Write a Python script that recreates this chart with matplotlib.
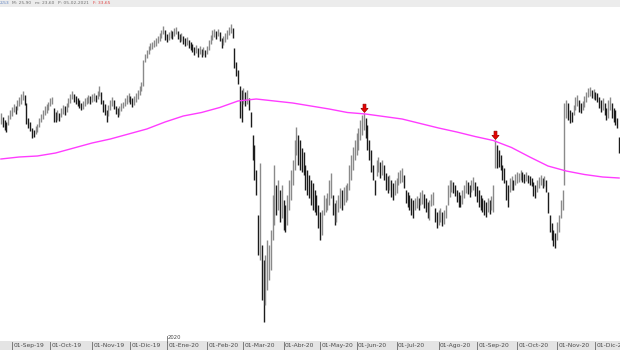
import numpy as np
import pandas as pd
import matplotlib
matplotlib.use("Agg")
import matplotlib.pyplot as plt
from matplotlib.path import Path
from matplotlib.patches import Rectangle
from matplotlib.transforms import blended_transform_factory

# sesiones de la bolsa (dias habiles sin festivos)
festivos = ['2019-12-25', '2019-12-26', '2020-01-01', '2020-04-10', '2020-04-13', '2020-05-01']
meses = ['Ene', 'Feb', 'Mar', 'Abr', 'May', 'Jun', 'Jul', 'Ago', 'Sep', 'Oct', 'Nov', 'Dic']

highs = [
    28.7, 28.3, 28.0, 27.8, 28.5, 29.0, 29.3, 29.6, 29.4, 30.0,
    30.3, 30.6, 30.9, 30.5, 29.7, 28.2, 27.8, 27.2, 27.0, 27.4,
    27.6, 28.2, 28.6, 29.0, 29.4, 29.6, 29.8, 30.2, 30.3, 29.2,
    28.8, 29.0, 28.7, 29.2, 29.5, 29.4, 29.7, 30.2, 30.6, 30.9,
    30.6, 30.4, 30.2, 30.0, 29.7, 29.9, 30.2, 30.3, 30.5, 30.4,
    30.6, 30.7, 30.5, 30.9, 31.4, 30.8, 30.0, 29.6, 29.0, 29.5,
    30.0, 30.3, 30.0, 29.4, 29.2, 29.4, 29.7, 29.8, 30.2, 30.5,
    30.7, 30.4, 30.2, 30.4, 30.7, 31.0, 31.4, 31.8, 34.0, 34.6,
    35.0, 35.4, 35.7, 35.8, 36.0, 36.2, 36.4, 36.7, 37.0, 37.4,
    37.0, 36.6, 36.8, 37.0, 36.9, 37.2, 37.3, 36.9, 36.6, 36.7,
    36.4, 36.2, 36.3, 36.0, 35.8, 35.6, 35.3, 35.5, 35.2, 35.4,
    35.1, 35.3, 35.0, 35.4, 36.0, 36.5, 37.0, 37.1, 36.9, 37.1,
    36.8, 36.2, 36.4, 36.7, 37.0, 37.3, 37.6, 37.2, 35.2, 33.8,
    33.0, 31.4, 31.0, 31.2, 30.8, 31.0, 30.2, 28.8, 26.5, 25.5,
    23.0, 18.5, 23.7, 15.5, 14.0, 14.5, 16.0, 15.5, 17.0, 20.5,
    23.5, 21.5, 22.0, 21.0, 21.5, 20.0, 19.5, 20.5, 22.0, 23.0,
    24.0, 26.0, 27.3, 26.5, 26.0, 25.2, 24.8, 23.5, 23.0, 22.5,
    22.0, 21.7, 21.0, 20.5, 19.5, 18.8, 19.0, 20.5, 20.2, 20.7,
    22.0, 22.7, 20.5, 19.7, 20.0, 20.5, 21.2, 21.0, 21.3, 21.5,
    21.7, 23.5, 24.5, 25.3, 26.0, 26.7, 27.2, 28.0, 28.5, 28.7,
    28.2, 27.5, 26.0, 25.0, 23.5, 22.0, 24.0, 24.3, 23.8, 24.0,
    23.5, 22.7, 22.4, 22.5, 22.0, 21.7, 22.0, 22.2, 22.8, 23.0,
    23.2, 22.5, 21.0, 20.8, 20.5, 20.2, 20.0, 20.2, 20.4, 20.2,
    20.8, 21.0, 20.6, 20.2, 19.8, 20.0, 20.6, 20.8, 19.2, 18.8,
    19.0, 19.2, 18.8, 19.0, 19.5, 21.5, 22.0, 22.0, 21.8, 21.5,
    21.0, 20.8, 20.5, 21.0, 21.5, 22.0, 21.8, 21.5, 22.0, 22.3,
    21.8, 21.4, 21.0, 20.5, 20.2, 20.0, 19.8, 20.2, 20.0, 20.4,
    21.5, 26.0, 25.5, 25.0, 24.5, 23.5, 23.2, 22.0, 21.5, 22.2,
    22.4, 22.0, 22.6, 22.8, 22.7, 23.0, 22.8, 22.6, 22.8, 22.5,
    22.4, 22.2, 21.8, 21.5, 22.0, 22.3, 22.5, 22.2, 22.4, 22.0,
    20.8, 18.5, 17.7, 17.0, 16.7, 17.8, 18.5, 20.0, 21.0, 29.7,
    30.0, 29.7, 29.0, 28.8, 29.5, 30.3, 30.5, 30.0, 29.7, 29.9,
    30.4, 30.8, 31.2, 31.3, 31.0, 31.1, 30.8, 30.7, 30.3, 30.0,
    30.2, 29.7, 29.2, 30.0, 30.3, 29.7, 29.2, 29.0, 28.2, 26.3,
]
lows = [
    27.6, 27.3, 27.0, 26.8, 27.5, 28.1, 28.4, 28.8, 28.6, 29.0,
    29.4, 29.6, 30.0, 29.5, 27.6, 27.2, 26.9, 26.2, 26.3, 26.6,
    26.8, 27.3, 27.8, 28.1, 28.5, 28.7, 29.0, 29.4, 29.6, 27.8,
    27.8, 28.0, 27.9, 28.3, 28.6, 28.5, 28.8, 29.3, 29.7, 30.1,
    29.8, 29.6, 29.4, 29.2, 29.0, 29.1, 29.4, 29.6, 29.7, 29.6,
    29.8, 29.9, 29.8, 30.1, 30.4, 29.6, 28.8, 28.5, 27.8, 28.4,
    29.0, 29.4, 29.1, 28.6, 28.3, 28.5, 28.9, 29.2, 29.4, 29.6,
    29.8, 29.6, 29.3, 29.5, 29.8, 30.1, 30.5, 30.9, 31.4, 33.8,
    34.2, 34.6, 35.0, 35.1, 35.3, 35.4, 35.7, 35.9, 36.2, 36.6,
    36.0, 35.8, 36.0, 36.2, 36.1, 36.4, 36.6, 36.1, 35.8, 35.9,
    35.6, 35.4, 35.5, 35.2, 35.0, 34.8, 34.5, 34.7, 34.3, 34.6,
    34.3, 34.5, 34.3, 34.6, 35.0, 35.6, 36.0, 36.3, 36.1, 36.4,
    35.9, 35.2, 35.5, 35.8, 36.1, 36.5, 36.7, 36.2, 33.2, 32.4,
    31.6, 28.2, 27.8, 29.6, 29.4, 29.6, 29.0, 27.3, 24.0, 22.0,
    20.5, 14.5, 14.0, 10.0, 7.8, 9.5, 11.0, 12.0, 13.0, 16.0,
    17.5, 18.5, 19.0, 17.8, 18.2, 17.0, 16.8, 17.5, 19.0, 20.0,
    21.5, 23.0, 24.5, 23.5, 23.0, 22.8, 22.5, 21.0, 20.5, 20.2,
    19.5, 19.0, 18.8, 18.5, 17.2, 16.0, 16.5, 18.5, 18.8, 19.0,
    19.5, 20.2, 18.5, 17.5, 17.8, 18.8, 19.2, 19.0, 19.5, 19.8,
    20.0, 21.0, 22.0, 23.0, 24.0, 24.5, 25.0, 26.0, 26.5, 27.0,
    26.2, 25.0, 24.0, 22.8, 22.0, 20.5, 22.4, 22.8, 22.2, 22.5,
    22.0, 21.0, 20.7, 21.0, 20.3, 20.0, 20.5, 20.7, 21.5, 21.7,
    21.8, 21.2, 19.7, 19.3, 19.0, 18.5, 18.2, 19.0, 19.2, 19.0,
    19.5, 19.6, 19.2, 18.8, 18.2, 18.0, 19.4, 19.5, 17.8, 17.2,
    17.5, 17.8, 17.4, 17.6, 18.2, 19.5, 20.3, 20.8, 20.7, 20.4,
    19.8, 19.3, 19.3, 19.6, 20.2, 20.7, 20.6, 20.3, 20.8, 21.0,
    20.4, 19.8, 19.3, 19.0, 18.8, 18.5, 18.3, 18.8, 18.6, 19.0,
    18.8, 23.2, 23.2, 23.3, 23.0, 22.0, 21.7, 20.0, 19.3, 20.8,
    21.0, 21.0, 21.5, 21.7, 21.8, 22.0, 21.8, 21.7, 21.9, 21.7,
    21.5, 21.4, 20.4, 20.2, 20.8, 21.2, 21.5, 21.2, 21.4, 20.8,
    18.7, 16.8, 16.0, 15.4, 15.2, 16.0, 16.8, 18.2, 19.0, 21.5,
    28.2, 28.0, 27.7, 27.8, 28.5, 29.0, 29.4, 28.8, 28.7, 29.0,
    29.3, 29.8, 30.3, 30.4, 30.2, 30.1, 30.0, 29.8, 29.2, 28.8,
    29.0, 28.5, 28.0, 28.2, 29.0, 28.2, 27.8, 27.5, 27.2, 24.7,
]

# media movil (leida cada 10 sesiones)
ma_idx = [0, 10, 20, 30, 40, 50, 60, 70, 80, 90, 100, 110, 120, 130, 140, 150, 160,
          170, 180, 190, 200, 210, 220, 230, 240, 250, 260, 270, 280, 290, 300, 310,
          320, 330, 339]
ma_vals = [24.10, 24.30, 24.40, 24.70, 25.20, 25.70, 26.10, 26.60, 27.10, 27.80, 28.40,
           28.75, 29.25, 29.90, 30.10, 29.90, 29.70, 29.40, 29.10, 28.75, 28.60, 28.35,
           28.10, 27.65, 27.20, 26.80, 26.35, 25.95, 25.25, 24.30, 23.40, 22.90, 22.55,
           22.30, 22.20]

senales = [199, 271]

n = len(highs)
fechas = pd.bdate_range('2019-08-23', '2020-12-18', freq='C', holidays=festivos)[:n]
x = np.arange(n)
highs = np.array(highs)
lows = np.array(lows)
mid = (highs + lows) / 2
cols = ['#8a8a8a'] + ['#1c1c1c' if mid[i] < mid[i - 1] else '#8a8a8a' for i in range(1, n)]

fig = plt.figure(figsize=(6.2, 3.5), dpi=100)

# franjas superior e inferior (detras de todo)
fig.patches.append(Rectangle((0, 0), 1, 9 / 350, transform=fig.transFigure,
                             facecolor='#e4e4e4', edgecolor='none', zorder=-5))
fig.patches.append(Rectangle((0, 1 - 7 / 350), 1, 7 / 350, transform=fig.transFigure,
                             facecolor='#ececec', edgecolor='none', zorder=-5))

ax = fig.add_axes([0, 10 / 350, 1, 332 / 350])
ax.set_xlim(-0.5, n - 0.5)
ax.set_ylim(6.0, 39.2)
ax.set_axis_off()

ax.vlines(x, lows, highs, colors=cols, linewidth=1.0)
ax.plot(ma_idx, ma_vals, color='#ff3cff', linewidth=1.0, zorder=3)

# flecha roja hacia abajo, punta en el origen
verts = [(0, 0), (-0.85, 1.0), (-0.35, 1.0), (-0.35, 2.0), (0.35, 2.0), (0.35, 1.0), (0.85, 1.0), (0, 0)]
codes = [Path.MOVETO] + [Path.LINETO] * 6 + [Path.CLOSEPOLY]
flecha = Path(verts, codes)
for s in senales:
    ax.plot([s], [highs[s] + 0.1], marker=flecha, markersize=12, color='#e80000',
            markeredgecolor='#9a0000', markeredgewidth=0.5, zorder=4)

trans = blended_transform_factory(ax.transData, fig.transFigure)
pos = [i for i in range(1, n) if fechas[i].month != fechas[i - 1].month]
for p in pos:
    f = fechas[p]
    ax.plot([p, p], [0, 8.5 / 350], transform=trans, color='#6a6a6a', lw=0.6, clip_on=False)
    etiqueta = '01-%s-%02d' % (meses[f.month - 1], f.year % 100)
    ax.text(p + 0.7, 4.2 / 350, etiqueta, transform=trans, fontsize=4.3, color='#4a4a4a',
            ha='left', va='center', clip_on=False)
    if f.month == 1:
        ax.plot([p, p], [8.5 / 350, 14 / 350], transform=trans, color='#6a6a6a', lw=0.6, clip_on=False)
        ax.text(p + 0.7, 12.5 / 350, str(f.year), transform=trans, fontsize=3.8, color='#4a4a4a',
                ha='left', va='center', clip_on=False)

yt = 1 - 3.5 / 350
estado = [('2,53', 0, '#5a7fc0'), ('M: 25,90', 12, '#707070'), ('m: 23,60', 35, '#707070'),
          ('P: 05-02-2021', 58, '#707070'), ('F: 33,65', 93, '#e04848')]
for txt, px, c in estado:
    fig.text(px / 620, yt, txt, fontsize=3.2, color=c, va='center')

fig.savefig('out.png', dpi=100)
